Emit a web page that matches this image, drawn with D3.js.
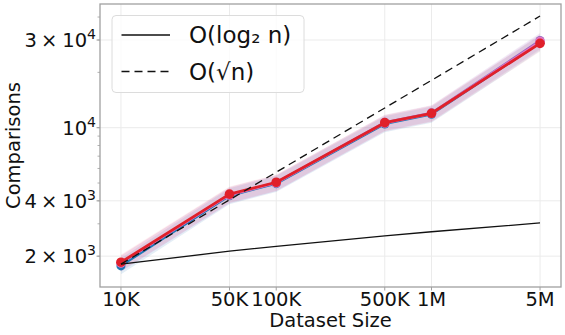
<!DOCTYPE html>
<html>
<head>
<meta charset="utf-8">
<script src="https://cdn.jsdelivr.net/npm/d3@7"></script>
<style>
  html, body { margin: 0; padding: 0; background: #fff; }
  svg { display: block; font-family: "DejaVu Sans", sans-serif; }
</style>
</head>
<body>
<svg id="chart" width="565" height="335"></svg>
<script>
// ---- data ----
const sizes = [1e4, 5e4, 1e5, 5e5, 1e6, 5e6];
const xTickValues = [1e4, 5e4, 1e5, 5e5, 1e6, 5e6];
const xTickLabels = ["10K", "50K", "100K", "500K", "1M", "5M"];
const yTickValues = [2000, 4000, 10000, 30000];
const yTickMantissa = ["2", "4", "", "3"];
const yTickExponent = ["3", "3", "4", "4"];

const seriesBlue   = [1770, 4260, 4960, 10480, 11820, 29000];
const seriesPurple = [1830, 4330, 5030, 10700, 12050, 29800];
const seriesPink   = [1840, 4300, 5010, 10600, 11950, 29400];
const seriesRed    = [1854, 4350, 5050, 10650, 11980, 28770];
const bandLowFactor  = [0.9, 0.9, 0.9, 0.9, 0.9, 0.9];
const bandHighFactor = [1.1, 1.1, 1.1, 1.1, 1.1, 1.1];

const refLog2 = [1811, 2128, 2264, 2580, 2716, 3033];
const refSqrt = [1811, 4050, 5727, 12806, 18110, 40495];

const legendLabels = ["O(log\u2082 n)", "O(\u221an)"];

// ---- layout ----
const svg = d3.select("#chart");
const L = 100, R = 561, T = 4, B = 287;

const x = d3.scaleLog().domain([Math.pow(10, 3.865), Math.pow(10, 6.834)]).range([L, R]);
const y = d3.scaleLog().domain([Math.pow(10, 3.1333), Math.pow(10, 4.673)]).range([B, T]);

// grid
const grid = svg.append("g");
grid.selectAll("line.gx").data(xTickValues).enter().append("line")
  .attr("x1", d => x(d)).attr("x2", d => x(d)).attr("y1", T).attr("y2", B)
  .attr("stroke", "#ebebeb").attr("stroke-width", 1);
grid.selectAll("line.gy").data(yTickValues).enter().append("line")
  .attr("x1", L).attr("x2", R).attr("y1", d => y(d)).attr("y2", d => y(d))
  .attr("stroke", "#ebebeb").attr("stroke-width", 1);

// clip
svg.append("clipPath").attr("id", "clip").append("rect")
  .attr("x", L).attr("y", T).attr("width", R - L).attr("height", B - T);
const plot = svg.append("g").attr("clip-path", "url(#clip)");

const series = [
  { vals: seriesBlue,   color: "#1f77b4", band: "#1f77b4", lw: 2.2, r: 4.5 },
  { vals: seriesPurple, color: "#9467bd", band: "#9467bd", lw: 2.2, r: 4.5 },
  { vals: seriesPink,   color: "#e377c2", band: "#e377c2", lw: 2.4, r: 4.8 },
  { vals: seriesRed,    color: "#e0202a", band: "#ff9090", lw: 2.8, r: 4.8 }
];

const area = d3.area()
  .x((d, i) => x(sizes[i]))
  .y0(d => y(d[0])).y1(d => y(d[1]));
const line = d3.line().x((d, i) => x(sizes[i])).y(d => y(d));

series.forEach(s => {
  const bandData = s.vals.map((v, i) => [v * bandLowFactor[i], v * bandHighFactor[i]]);
  plot.append("path").datum(bandData).attr("d", area)
    .attr("fill", s.band).attr("fill-opacity", 0.12);
});
series.forEach(s => {
  plot.append("path").datum(s.vals).attr("d", line)
    .attr("fill", "none").attr("stroke", s.color).attr("stroke-width", s.lw)
    .attr("stroke-linejoin", "round");
  plot.selectAll(null).data(s.vals).enter().append("circle")
    .attr("cx", (d, i) => x(sizes[i])).attr("cy", d => y(d)).attr("r", s.r)
    .attr("fill", s.color);
});

// reference lines
plot.append("path").datum(refLog2).attr("d", line)
  .attr("fill", "none").attr("stroke", "#111").attr("stroke-width", 1.3);
plot.append("path").datum(refSqrt).attr("d", line)
  .attr("fill", "none").attr("stroke", "#111").attr("stroke-width", 1.3)
  .attr("stroke-dasharray", "8,5");

// spines
svg.append("rect").attr("x", L).attr("y", T).attr("width", R - L).attr("height", B - T)
  .attr("fill", "none").attr("stroke", "#a0a0a0").attr("stroke-width", 1.3);

// x ticks
const xt = svg.append("g");
xTickValues.forEach((v, i) => {
  xt.append("line").attr("x1", x(v)).attr("x2", x(v)).attr("y1", B).attr("y2", B + 3.5)
    .attr("stroke", "#a0a0a0");
  xt.append("text").attr("x", x(v)).attr("y", B + 19)
    .attr("text-anchor", "middle").attr("font-size", 19.5).attr("fill", "#111")
    .text(xTickLabels[i]);
});

// y ticks (major + minor)
const minorY = [2000, 3000, 4000, 5000, 6000, 7000, 8000, 9000, 10000, 20000, 30000, 40000];
minorY.forEach(v => {
  svg.append("line").attr("x1", L - 2.5).attr("x2", L).attr("y1", y(v)).attr("y2", y(v))
    .attr("stroke", "#a0a0a0").attr("stroke-width", 0.8);
});
yTickValues.forEach((v, i) => {
  svg.append("line").attr("x1", L - 3.5).attr("x2", L).attr("y1", y(v)).attr("y2", y(v))
    .attr("stroke", "#a0a0a0");
  const t = svg.append("text").attr("x", L - 4).attr("y", y(v) + 7)
    .attr("text-anchor", "end").attr("font-size", 19.5).attr("fill", "#111");
  if (yTickMantissa[i]) {
    t.append("tspan").text(yTickMantissa[i]);
    t.append("tspan").attr("dx", 4).text("\u00d7");
    t.append("tspan").attr("dx", 5).text("10");
  } else {
    t.append("tspan").text("10");
  }
  t.append("tspan").attr("font-size", 14).attr("dy", -8).text(yTickExponent[i]);
});

// axis labels
svg.append("text").attr("x", (L + R) / 2).attr("y", 327)
  .attr("text-anchor", "middle").attr("font-size", 19.5).attr("fill", "#111")
  .text("Dataset Size");
svg.append("text").attr("transform", `translate(20,${(T + B) / 2}) rotate(-90)`)
  .attr("text-anchor", "middle").attr("font-size", 19.5).attr("fill", "#111")
  .text("Comparisons");

// legend
const lg = svg.append("g");
lg.append("rect").attr("x", 112).attr("y", 15.5).attr("width", 192).attr("height", 77)
  .attr("rx", 4).attr("fill", "#fff").attr("fill-opacity", 0.8)
  .attr("stroke", "#dcdcdc").attr("stroke-width", 1);
const rowY = [35, 71.5];
legendLabels.forEach((lab, i) => {
  const ln = lg.append("line").attr("x1", 121.5).attr("x2", 170).attr("y1", rowY[i]).attr("y2", rowY[i])
    .attr("stroke", "#111").attr("stroke-width", 1.3);
  if (i === 1) ln.attr("stroke-dasharray", "8,5");
  lg.append("text").attr("x", 189).attr("y", rowY[i] + 8)
    .attr("font-size", 23).attr("fill", "#111").text(lab);
});
</script>
</body>
</html>
